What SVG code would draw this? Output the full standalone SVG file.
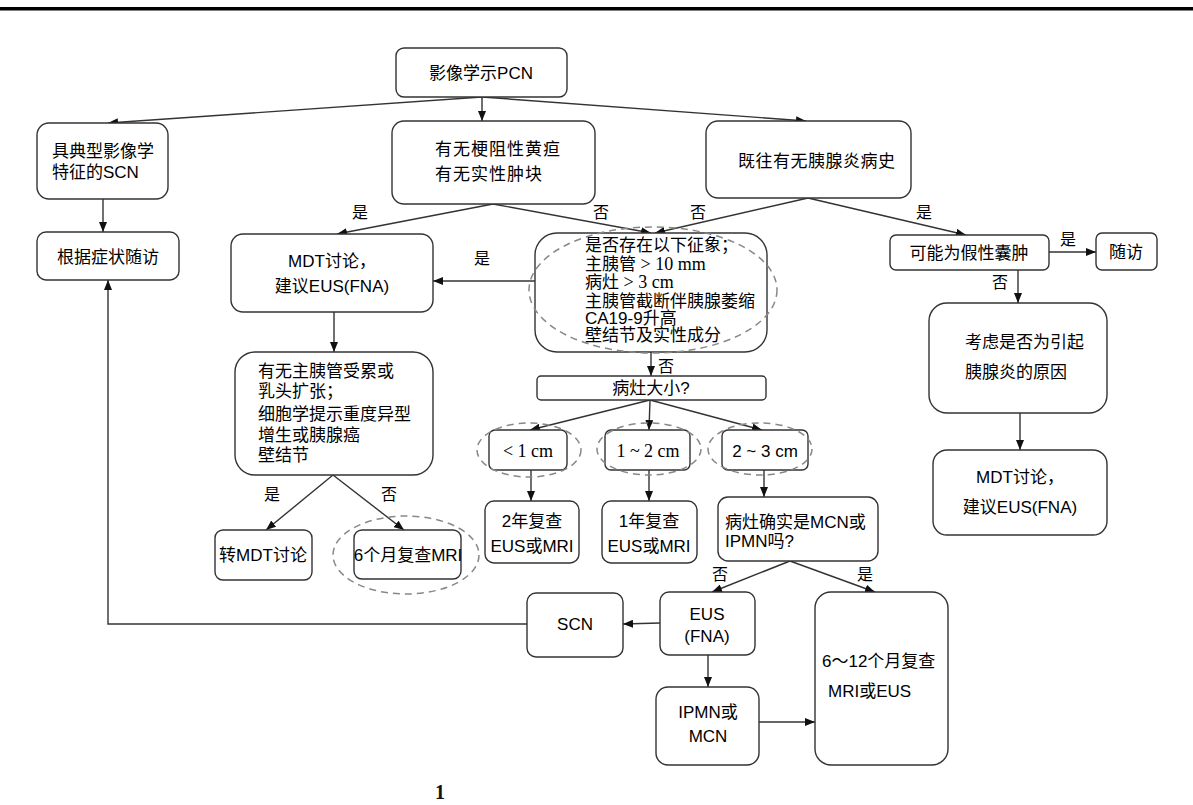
<svg xmlns="http://www.w3.org/2000/svg" width="1193" height="805" viewBox="0 0 1193 805">
<style>
.box{fill:#fff;stroke:#333;stroke-width:1.4}
.ell{fill:none;stroke:#888;stroke-width:1.5;stroke-dasharray:7 5}
.t{font-family:"Liberation Sans","Noto Sans CJK SC",sans-serif;font-size:17px;fill:#000}
.s{font-family:"Liberation Serif","Noto Sans CJK SC",serif;font-size:18px;fill:#000}
.c{text-anchor:middle}
.lab{font-family:"Noto Sans CJK SC",sans-serif;font-size:16px;fill:#000;text-anchor:middle}
.con{fill:none;stroke:#333;stroke-width:1.4}
</style>
<defs>
<marker id="ah" viewBox="0 0 10 8" refX="10" refY="4" markerUnits="userSpaceOnUse" markerWidth="10" markerHeight="8" orient="auto">
<path d="M0,0 L10,4 L0,8 z" fill="#111"/>
</marker>
</defs>
<rect x="0" y="0" width="1193" height="805" fill="#fff"/>
<rect x="0" y="7" width="1193" height="3.5" fill="#000"/>

<g id="connectors">
<line class="con" x1="482" y1="97" x2="108" y2="123" marker-end="url(#ah)"/>
<line class="con" x1="482" y1="97" x2="482" y2="121" marker-end="url(#ah)"/>
<line class="con" x1="482" y1="97" x2="806" y2="121" marker-end="url(#ah)"/>
<line class="con" x1="103" y1="199" x2="103" y2="232" marker-end="url(#ah)"/>
<line class="con" x1="493" y1="204" x2="337" y2="234" marker-end="url(#ah)"/>
<line class="con" x1="493" y1="204" x2="651" y2="233" marker-end="url(#ah)"/>
<line class="con" x1="808" y1="198" x2="655" y2="233" marker-end="url(#ah)"/>
<line class="con" x1="808" y1="198" x2="966" y2="235" marker-end="url(#ah)"/>
<line class="con" x1="535" y1="281" x2="433" y2="281" marker-end="url(#ah)"/>
<line class="con" x1="651" y1="352" x2="651" y2="376" marker-end="url(#ah)"/>
<line class="con" x1="650" y1="400" x2="530" y2="430" marker-end="url(#ah)"/>
<line class="con" x1="650" y1="400" x2="649" y2="430" marker-end="url(#ah)"/>
<line class="con" x1="650" y1="400" x2="762" y2="430" marker-end="url(#ah)"/>
<line class="con" x1="531" y1="470" x2="531" y2="501" marker-end="url(#ah)"/>
<line class="con" x1="649" y1="470" x2="649" y2="501" marker-end="url(#ah)"/>
<line class="con" x1="764" y1="470" x2="764" y2="497" marker-end="url(#ah)"/>
<line class="con" x1="790" y1="561" x2="712" y2="592" marker-end="url(#ah)"/>
<line class="con" x1="790" y1="561" x2="875" y2="592" marker-end="url(#ah)"/>
<line class="con" x1="660" y1="623" x2="623" y2="624" marker-end="url(#ah)"/>
<polyline class="con" points="527,624 108,624 108,280" marker-end="url(#ah)"/>
<line class="con" x1="708" y1="655" x2="708" y2="687" marker-end="url(#ah)"/>
<line class="con" x1="759" y1="722" x2="815" y2="722" marker-end="url(#ah)"/>
<line class="con" x1="334" y1="312" x2="334" y2="352" marker-end="url(#ah)"/>
<line class="con" x1="333" y1="475" x2="266" y2="530" marker-end="url(#ah)"/>
<line class="con" x1="333" y1="475" x2="404" y2="530" marker-end="url(#ah)"/>
<line class="con" x1="1049" y1="252" x2="1096" y2="252" marker-end="url(#ah)"/>
<line class="con" x1="1018" y1="270" x2="1018" y2="303" marker-end="url(#ah)"/>
<line class="con" x1="1020" y1="413" x2="1020" y2="450" marker-end="url(#ah)"/>
<text class="lab" x="360" y="218">是</text>
<text class="lab" x="601" y="218">否</text>
<text class="lab" x="698" y="218">否</text>
<text class="lab" x="924" y="218">是</text>
<text class="lab" x="482" y="264">是</text>
<text class="lab" x="666" y="372">否</text>
<text class="lab" x="1000" y="288">否</text>
<text class="lab" x="1068" y="245">是</text>
<text class="lab" x="272" y="500">是</text>
<text class="lab" x="389" y="500">否</text>
<text class="lab" x="720" y="580">否</text>
<text class="lab" x="865" y="580">是</text>
</g>

<g id="n-pcn"><rect class="box" x="396" y="48" width="171" height="49" rx="8"/><text class="t c" x="481" y="79">影像学示PCN</text></g>
<g id="n-scn-typ"><rect class="box" x="37" y="123" width="131" height="76" rx="12"/><text class="t" x="52" y="157">具典型影像学</text><text class="t" x="52" y="178">特征的SCN</text></g>
<g id="n-follow"><rect class="box" x="37" y="232" width="142" height="48" rx="9"/><text class="t c" x="108" y="263">根据症状随访</text></g>
<g id="n-jaundice"><rect class="box" x="392" y="121" width="203" height="83" rx="12"/><text class="t" x="435" y="155" letter-spacing="1">有无梗阻性黄疸</text><text class="t" x="435" y="180" letter-spacing="1">有无实性肿块</text></g>
<g id="n-history"><rect class="box" x="706" y="121" width="205" height="77" rx="12"/><text class="t" x="738" y="167" letter-spacing="0.5">既往有无胰腺炎病史</text></g>
<g id="n-mdt1"><rect class="box" x="231" y="234" width="202" height="78" rx="12"/><text class="t c" x="332" y="267">MDT讨论，</text><text class="t c" x="332" y="292">建议EUS(FNA)</text></g>
<g id="n-signs"><rect class="box" x="535" y="233" width="232" height="119" rx="22"/><ellipse class="ell" cx="653" cy="290" rx="124" ry="63"/>
<text class="t" x="585" y="251" font-size="16">是否存在以下征象；</text>
<text class="t" x="585" y="270" font-size="16">主胰管<tspan class="s"> &gt; 10 mm</tspan></text>
<text class="t" x="585" y="288" font-size="16">病灶<tspan class="s"> &gt; 3 cm</tspan></text>
<text class="t" x="585" y="307" font-size="16">主胰管截断伴胰腺萎缩</text>
<text class="t" x="585" y="324" font-size="16">CA19-9升高</text>
<text class="t" x="585" y="341" font-size="16">壁结节及实性成分</text></g>
<g id="n-size"><rect class="box" x="537" y="376" width="229" height="24" rx="4"/><text class="t c" x="651" y="394" font-size="16">病灶大小?</text></g>
<g id="n-lt1"><rect class="box" x="489" y="430" width="78" height="40" rx="6"/><ellipse class="ell" cx="529" cy="450" rx="52" ry="27"/><text class="s c" x="528" y="457">&lt; 1 cm</text></g>
<g id="n-1to2"><rect class="box" x="605" y="430" width="85" height="40" rx="6"/><ellipse class="ell" cx="649" cy="449" rx="52" ry="26"/><text class="s c" x="648" y="457">1 ~ 2 cm</text></g>
<g id="n-2to3"><rect class="box" x="722" y="430" width="86" height="40" rx="6"/><ellipse class="ell" cx="760" cy="449" rx="52" ry="26"/><text class="t c" x="765" y="457">2 ~ 3 cm</text></g>
<g id="n-2y"><rect class="box" x="485" y="501" width="94" height="62" rx="9"/><text class="t c" x="532" y="527">2年复查</text><text class="t c" x="532" y="552">EUS或MRI</text></g>
<g id="n-1y"><rect class="box" x="602" y="501" width="95" height="62" rx="9"/><text class="t c" x="649" y="527">1年复查</text><text class="t c" x="649" y="552">EUS或MRI</text></g>
<g id="n-mcn-q"><rect class="box" x="718" y="497" width="160" height="64" rx="10"/><text class="t" x="725" y="528">病灶确实是MCN或</text><text class="t" x="725" y="547">IPMN吗?</text></g>
<g id="n-papilla"><rect class="box" x="235" y="352" width="198" height="123" rx="20"/>
<text class="t" x="258" y="377">有无主胰管受累或</text>
<text class="t" x="258" y="397">乳头扩张；</text>
<text class="t" x="258" y="420">细胞学提示重度异型</text>
<text class="t" x="258" y="441">增生或胰腺癌</text>
<text class="t" x="258" y="461">壁结节</text></g>
<g id="n-mdt2"><rect class="box" x="215" y="530" width="97" height="50" rx="8"/><text class="t c" x="263" y="561">转MDT讨论</text></g>
<g id="n-6m"><rect class="box" x="354" y="530" width="107" height="49" rx="8"/><ellipse class="ell" cx="406" cy="555" rx="73" ry="39"/><text class="t c" x="408" y="561">6个月复查MRI</text></g>
<g id="n-scn"><rect class="box" x="527" y="593" width="96" height="64" rx="9"/><text class="t c" x="575" y="630">SCN</text></g>
<g id="n-eus"><rect class="box" x="660" y="592" width="95" height="63" rx="9"/><text class="t c" x="707" y="620">EUS</text><text class="t c" x="707" y="642">(FNA)</text></g>
<g id="n-ipmn"><rect class="box" x="656" y="687" width="103" height="78" rx="12"/><text class="t c" x="708" y="718">IPMN或</text><text class="t c" x="708" y="742">MCN</text></g>
<g id="n-6to12"><rect class="box" x="815" y="592" width="133" height="173" rx="16"/><text class="t" x="822" y="667">6～12个月复查</text><text class="t" x="828" y="697">MRI或EUS</text></g>
<g id="n-pseudo"><rect class="box" x="890" y="235" width="159" height="35" rx="6"/><text class="t c" x="969" y="259">可能为假性囊肿</text></g>
<g id="n-fu"><rect class="box" x="1096" y="233" width="61" height="37" rx="6"/><text class="t c" x="1126" y="258">随访</text></g>
<g id="n-cause"><rect class="box" x="929" y="303" width="178" height="110" rx="18"/><text class="t" x="965" y="348">考虑是否为引起</text><text class="t" x="965" y="378">胰腺炎的原因</text></g>
<g id="n-mdt3"><rect class="box" x="933" y="450" width="174" height="85" rx="14"/><text class="t c" x="1020" y="483">MDT讨论，</text><text class="t c" x="1020" y="513">建议EUS(FNA)</text></g>

<text x="440" y="799" font-family="Liberation Serif,serif" font-weight="bold" font-size="20" fill="#111" text-anchor="middle">1</text>
</svg>
